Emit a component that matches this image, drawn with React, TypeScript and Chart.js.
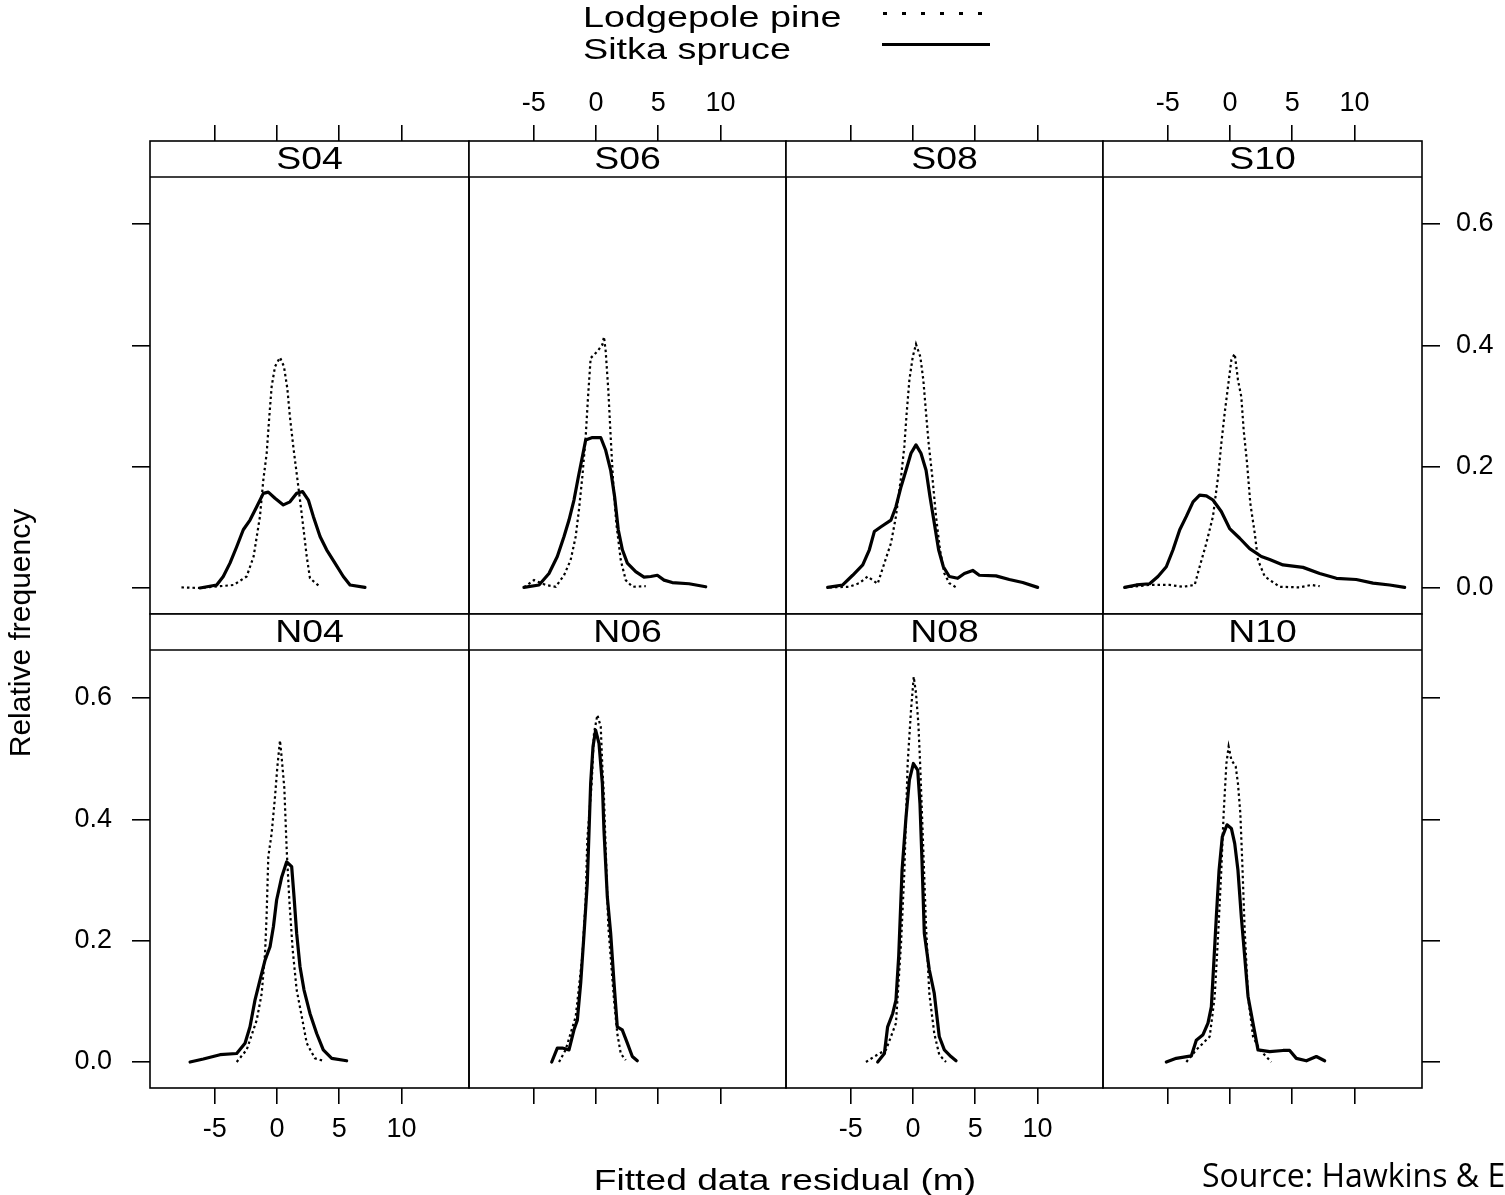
import React, { useEffect, useRef } from 'react';
import { Chart, registerables } from 'chart.js';
Chart.register(...registerables);

const FONT = '"Liberation Sans", Arial, Helvetica, sans-serif';

const panelNames = ['S04', 'S06', 'S08', 'S10', 'N04', 'N06', 'N08', 'N10'];
const seriesNames = ['Lodgepole pine', 'Sitka spruce'];
const xTicks = [-5, 0, 5, 10];
const yTicks = [0, 0.2, 0.4, 0.6];
const yTickLabels = ['0.0', '0.2', '0.4', '0.6'];
const xTitle = 'Fitted data residual (m)';
const yTitle = 'Relative frequency';
const sourceText = 'Source: Hawkins & E';

type P = [number, number][];

const S04_pine: P = [[-7.68, 0.001], [-6.18, 0.0], [-3.48, 0.005], [-2.44, 0.019], [-1.88, 0.052], [-1.37, 0.118], [-1.1, 0.178], [-0.83, 0.222], [-0.62, 0.282], [-0.43, 0.332], [-0.16, 0.365], [0.24, 0.38], [0.56, 0.365], [0.83, 0.329], [1.04, 0.282], [1.31, 0.233], [1.58, 0.189], [1.85, 0.145], [2.11, 0.101], [2.39, 0.052], [2.65, 0.016], [3.46, 0.002]];
const S04_spruce: P = [[-6.19, 0.0], [-4.85, 0.005], [-4.32, 0.019], [-3.78, 0.041], [-3.24, 0.068], [-2.71, 0.096], [-2.17, 0.112], [-1.63, 0.134], [-1.1, 0.156], [-0.7, 0.158], [-0.16, 0.148], [0.51, 0.137], [1.04, 0.142], [1.58, 0.156], [2.06, 0.159], [2.52, 0.145], [2.92, 0.118], [3.46, 0.085], [3.99, 0.063], [4.66, 0.041], [5.33, 0.019], [5.87, 0.005], [7.07, 0.001]];

const S06_pine: P = [[-5.79, 0.001], [-4.98, 0.013], [-4.04, 0.005], [-3.24, 0.002], [-2.57, 0.021], [-2.04, 0.046], [-1.63, 0.085], [-1.37, 0.129], [-1.1, 0.183], [-0.83, 0.249], [-0.64, 0.315], [-0.43, 0.379], [0.11, 0.39], [0.51, 0.401], [0.64, 0.414], [0.78, 0.39], [0.99, 0.326], [1.18, 0.249], [1.37, 0.178], [1.63, 0.107], [1.99, 0.046], [2.39, 0.013], [2.92, 0.002], [4.0, 0.003]];
const S06_spruce: P = [[-5.79, 0.001], [-4.58, 0.005], [-3.78, 0.024], [-3.11, 0.052], [-2.57, 0.085], [-2.17, 0.112], [-1.77, 0.145], [-1.42, 0.183], [-1.1, 0.216], [-0.83, 0.244], [-0.29, 0.248], [0.38, 0.248], [0.78, 0.227], [1.18, 0.194], [1.5, 0.15], [1.79, 0.096], [2.12, 0.063], [2.52, 0.041], [3.19, 0.027], [3.86, 0.018], [4.4, 0.019], [4.93, 0.021], [5.47, 0.013], [6.13, 0.009], [7.48, 0.007], [8.82, 0.002]];

const S08_pine: P = [[-6.72, 0.001], [-5.12, 0.002], [-4.32, 0.008], [-3.64, 0.019], [-2.84, 0.007], [-2.3, 0.041], [-1.77, 0.074], [-1.37, 0.118], [-0.96, 0.183], [-0.7, 0.233], [-0.51, 0.288], [-0.29, 0.343], [-0.02, 0.381], [0.24, 0.402], [0.59, 0.381], [0.83, 0.343], [1.05, 0.288], [1.26, 0.238], [1.58, 0.178], [1.85, 0.118], [2.17, 0.063], [2.52, 0.024], [2.92, 0.008], [3.46, 0.001]];
const S08_spruce: P = [[-6.86, 0.001], [-5.65, 0.005], [-4.85, 0.021], [-4.04, 0.038], [-3.51, 0.063], [-3.11, 0.093], [-2.57, 0.101], [-1.77, 0.112], [-1.37, 0.134], [-0.96, 0.167], [-0.56, 0.194], [-0.16, 0.222], [0.24, 0.236], [0.64, 0.222], [1.05, 0.194], [1.37, 0.15], [1.71, 0.107], [2.06, 0.063], [2.44, 0.035], [2.92, 0.019], [3.59, 0.016], [4.13, 0.024], [4.8, 0.029], [5.33, 0.021], [6.67, 0.02], [7.74, 0.014], [8.82, 0.009], [10.02, 0.001]];

const S10_pine: P = [[-8.47, 0.001], [-6.46, 0.005], [-4.85, 0.005], [-3.78, 0.002], [-2.84, 0.005], [-2.44, 0.035], [-1.9, 0.074], [-1.37, 0.118], [-0.96, 0.183], [-0.7, 0.238], [-0.43, 0.288], [-0.16, 0.332], [0.11, 0.376], [0.38, 0.386], [0.64, 0.343], [0.91, 0.315], [1.1, 0.26], [1.37, 0.206], [1.63, 0.14], [1.99, 0.09], [2.25, 0.046], [2.79, 0.019], [3.99, 0.002], [5.6, 0.001], [6.54, 0.005], [7.21, 0.003]];
const S10_spruce: P = [[-8.47, 0.001], [-7.53, 0.005], [-6.46, 0.007], [-5.79, 0.019], [-5.12, 0.035], [-4.58, 0.063], [-4.04, 0.096], [-3.51, 0.118], [-2.97, 0.142], [-2.44, 0.153], [-1.9, 0.152], [-1.37, 0.145], [-0.7, 0.126], [-0.03, 0.098], [0.78, 0.082], [1.58, 0.065], [2.52, 0.052], [3.19, 0.047], [4.26, 0.038], [5.87, 0.034], [7.21, 0.024], [8.55, 0.016], [10.15, 0.014], [11.5, 0.008], [12.84, 0.005], [14.04, 0.001]];

const N04_pine: P = [[-3.24, 0.0], [-2.44, 0.02], [-1.63, 0.069], [-1.23, 0.113], [-0.96, 0.179], [-0.83, 0.245], [-0.7, 0.338], [-0.43, 0.377], [-0.16, 0.437], [0.03, 0.487], [0.24, 0.53], [0.38, 0.501], [0.59, 0.451], [0.78, 0.349], [0.99, 0.267], [1.26, 0.185], [1.58, 0.119], [1.99, 0.075], [2.39, 0.031], [3.05, 0.006], [3.72, 0.002]];
const N04_spruce: P = [[-6.99, 0.0], [-5.92, 0.005], [-4.58, 0.012], [-3.24, 0.014], [-2.57, 0.031], [-2.17, 0.058], [-1.77, 0.102], [-1.37, 0.135], [-0.96, 0.168], [-0.56, 0.19], [-0.29, 0.223], [-0.03, 0.267], [0.38, 0.305], [0.78, 0.33], [1.18, 0.322], [1.37, 0.272], [1.58, 0.212], [1.85, 0.157], [2.17, 0.119], [2.65, 0.08], [3.19, 0.047], [3.72, 0.02], [4.4, 0.006], [5.6, 0.002]];

const N06_pine: P = [[-2.97, 0.0], [-2.44, 0.02], [-1.63, 0.075], [-1.1, 0.174], [-0.83, 0.267], [-0.7, 0.366], [-0.35, 0.459], [-0.16, 0.542], [0.11, 0.572], [0.38, 0.553], [0.51, 0.487], [0.64, 0.437], [0.99, 0.223], [1.45, 0.102], [1.71, 0.047], [1.99, 0.014], [2.39, 0.003]];
const N06_spruce: P = [[-3.56, 0.0], [-3.11, 0.023], [-2.71, 0.023], [-2.17, 0.02], [-1.77, 0.053], [-1.5, 0.069], [-1.23, 0.13], [-0.96, 0.212], [-0.7, 0.295], [-0.43, 0.459], [-0.24, 0.52], [-0.03, 0.547], [0.24, 0.525], [0.51, 0.459], [0.64, 0.382], [0.91, 0.272], [1.18, 0.212], [1.45, 0.13], [1.71, 0.058], [2.11, 0.053], [2.52, 0.031], [2.92, 0.009], [3.32, 0.002]];

const N08_pine: P = [[-3.78, 0.0], [-3.11, 0.009], [-2.17, 0.02], [-1.37, 0.064], [-0.96, 0.196], [-0.7, 0.311], [-0.43, 0.492], [-0.16, 0.58], [0.06, 0.635], [0.24, 0.608], [0.43, 0.558], [0.56, 0.498], [0.78, 0.377], [1.05, 0.223], [1.31, 0.113], [1.71, 0.047], [2.11, 0.012], [2.65, 0.0]];
const N08_spruce: P = [[-2.84, 0.0], [-2.3, 0.014], [-2.04, 0.058], [-1.63, 0.08], [-1.37, 0.102], [-1.15, 0.174], [-0.88, 0.316], [-0.56, 0.404], [-0.29, 0.465], [0.03, 0.492], [0.38, 0.481], [0.56, 0.426], [0.72, 0.333], [0.91, 0.212], [1.31, 0.152], [1.71, 0.113], [2.11, 0.042], [2.52, 0.02], [3.05, 0.009], [3.46, 0.002]];

const N10_pine: P = [[-3.51, 0.0], [-2.71, 0.02], [-1.63, 0.042], [-1.23, 0.108], [-0.96, 0.207], [-0.7, 0.316], [-0.51, 0.41], [-0.29, 0.492], [-0.11, 0.52], [0.11, 0.498], [0.46, 0.487], [0.64, 0.459], [0.83, 0.41], [0.99, 0.327], [1.18, 0.218], [1.45, 0.108], [1.85, 0.042], [2.39, 0.02], [3.32, 0.0]];
const N10_spruce: P = [[-5.12, 0.0], [-4.32, 0.006], [-3.11, 0.01], [-2.71, 0.036], [-2.17, 0.045], [-1.77, 0.064], [-1.5, 0.091], [-1.29, 0.168], [-1.1, 0.239], [-0.88, 0.316], [-0.62, 0.371], [-0.24, 0.391], [0.11, 0.385], [0.38, 0.36], [0.64, 0.316], [0.91, 0.239], [1.18, 0.174], [1.45, 0.108], [1.85, 0.064], [2.25, 0.02], [3.19, 0.017], [4.26, 0.019], [4.8, 0.019], [5.33, 0.006], [6.14, 0.002], [6.94, 0.009], [7.61, 0.002]];

const pineData = [S04_pine, S06_pine, S08_pine, S10_pine, N04_pine, N06_pine, N08_pine, N10_pine];
const spruceData = [S04_spruce, S06_spruce, S08_spruce, S10_spruce, N04_spruce, N06_spruce, N08_spruce, N10_spruce];

// geometry
const colX = [150, 469, 786, 1103, 1422];
const rowTop = [141, 614];
const rowBottom = [614, 1088];
const yZeroPx = [588, 1062];
const STRIP_H = 36;
const PX_PER_X = 12.44;
const PX_PER_Y = 606.7;
const X_ZERO_OFF = 127;
const PAD = 3;
const X_TICK_LEN = 16;
const Y_TICK_LEN = 18;

const stripPlugin = {
  id: 'strip',
  afterDatasetsDraw(chart: any, _args: any, opts: any) {
    const { ctx, chartArea: a } = chart;
    ctx.save();
    ctx.fillStyle = '#fff';
    ctx.fillRect(a.left, a.top, a.right - a.left, STRIP_H);
    ctx.strokeStyle = '#000';
    ctx.lineWidth = 1.6;
    ctx.strokeRect(a.left, a.top, a.right - a.left, a.bottom - a.top);
    ctx.beginPath();
    ctx.moveTo(a.left, a.top + STRIP_H);
    ctx.lineTo(a.right, a.top + STRIP_H);
    ctx.stroke();
    ctx.fillStyle = '#000';
    ctx.font = `32px ${FONT}`;
    ctx.textAlign = 'center';
    ctx.textBaseline = 'middle';
    ctx.translate((a.left + a.right) / 2, a.top + STRIP_H / 2 + 1);
    ctx.scale(1.17, 1);
    ctx.fillText(opts.name, 0, 0);
    ctx.restore();
  },
};

function zeroPad(s: any) {
  s.paddingLeft = 0;
  s.paddingRight = 0;
  s.paddingTop = 0;
  s.paddingBottom = 0;
}

function Panel({ idx }: { idx: number }) {
  const ref = useRef<HTMLCanvasElement | null>(null);
  const col = idx % 4;
  const row = Math.floor(idx / 4);
  const left = colX[col];
  const right = colX[col + 1];
  const top = rowTop[row];
  const bottom = rowBottom[row];
  const w = right - left;
  const h = bottom - top;
  const xLabeled = row === 0 ? col % 2 === 1 : col % 2 === 0;
  const hasLeft = col === 0;
  const hasRight = col === 3;
  const yLabeled = (col === 0 && row === 1) || (col === 3 && row === 0);
  const topSz = row === 0 ? (xLabeled ? 58 : X_TICK_LEN + 2) : 0;
  const botSz = row === 1 ? (xLabeled ? 62 : X_TICK_LEN + 2) : 0;
  const leftSz = hasLeft ? (yLabeled ? 90 : Y_TICK_LEN + 2) : 0;
  const rightSz = hasRight ? (yLabeled ? 90 : Y_TICK_LEN + 2) : 0;
  const cw = w + leftSz + rightSz + 2 * PAD;
  const ch = h + topSz + botSz + 2 * PAD;
  const cx = left - leftSz - PAD;
  const cy = top - topSz - PAD;

  useEffect(() => {
    const xMin = -X_ZERO_OFF / PX_PER_X;
    const xMax = xMin + w / PX_PER_X;
    const yMin = -(bottom - yZeroPx[row]) / PX_PER_Y;
    const yMax = (yZeroPx[row] - top) / PX_PER_Y;
    const chart = new Chart(ref.current as HTMLCanvasElement, {
      type: 'line',
      data: {
        datasets: [
          {
            label: seriesNames[1],
            data: spruceData[idx].map(([x, y]) => ({ x, y })),
            borderColor: '#000',
            borderWidth: 3.2,
            pointRadius: 0,
            fill: false,
            tension: 0,
            borderJoinStyle: 'round',
            borderCapStyle: 'round',
          },
          {
            label: seriesNames[0],
            data: pineData[idx].map(([x, y]) => ({ x, y })),
            borderColor: '#000',
            borderWidth: 2.2,
            borderDash: [2.5, 3],
            pointRadius: 0,
            fill: false,
            tension: 0,
          },
        ],
      },
      options: {
        animation: false,
        responsive: false,
        events: [],
        layout: { padding: PAD },
        plugins: {
          legend: { display: false },
          tooltip: { enabled: false },
          strip: { name: panelNames[idx] },
        } as any,
        scales: {
          x: {
            type: 'linear',
            position: row === 0 ? 'top' : 'bottom',
            min: xMin,
            max: xMax,
            afterBuildTicks: (s: any) => {
              s.ticks = xTicks.map((v) => ({ value: v }));
            },
            afterFit: (s: any) => {
              s.height = row === 0 ? topSz : botSz;
              zeroPad(s);
            },
            grid: {
              drawOnChartArea: false,
              drawTicks: true,
              tickLength: X_TICK_LEN,
              tickColor: '#000',
              tickWidth: 1.6,
              color: '#000',
              lineWidth: 1.6,
            },
            border: { display: false },
            ticks: {
              display: xLabeled,
              color: '#000',
              font: { family: FONT, size: 27 },
              padding: row === 0 ? 5 : 9,
              maxRotation: 0,
              minRotation: 0,
              autoSkip: false,
              callback: (v: any) => String(v),
            },
          },
          y: {
            type: 'linear',
            display: hasLeft || hasRight,
            position: hasRight ? 'right' : 'left',
            min: yMin,
            max: yMax,
            afterBuildTicks: (s: any) => {
              s.ticks = yTicks.map((v) => ({ value: v }));
            },
            afterFit: (s: any) => {
              s.width = hasRight ? rightSz : leftSz;
              zeroPad(s);
            },
            grid: {
              drawOnChartArea: false,
              drawTicks: true,
              tickLength: Y_TICK_LEN,
              tickColor: '#000',
              tickWidth: 1.6,
              color: '#000',
              lineWidth: 1.6,
            },
            border: { display: false },
            ticks: {
              display: yLabeled,
              color: '#000',
              font: { family: FONT, size: 27 },
              padding: hasRight ? 16 : 20,
              autoSkip: false,
              callback: (v: any) => {
                const i = yTicks.findIndex((t) => Math.abs(t - v) < 1e-9);
                return i >= 0 ? yTickLabels[i] : '';
              },
            },
          },
        },
      } as any,
      plugins: [stripPlugin as any],
    });
    return () => chart.destroy();
  }, []);

  return (
    <canvas
      ref={ref}
      width={cw}
      height={ch}
      style={{ position: 'absolute', left: cx, top: cy, width: cw, height: ch }}
    />
  );
}

export default function App() {
  return (
    <div
      style={{
        position: 'fixed',
        left: 0,
        top: 0,
        width: 1505,
        height: 1195,
        overflow: 'hidden',
        background: '#fff',
      }}
    >
      {panelNames.map((n, i) => (
        <Panel key={n} idx={i} />
      ))}
      <svg
        width={1505}
        height={1195}
        style={{ position: 'absolute', left: 0, top: 0, pointerEvents: 'none' }}
      >
        <text transform="translate(583,26.7) scale(1.26,1)" fontFamily={FONT} fontSize={30} fill="#000">
          {seriesNames[0]}
        </text>
        <text transform="translate(583,59) scale(1.26,1)" fontFamily={FONT} fontSize={30} fill="#000">
          {seriesNames[1]}
        </text>
        <line x1={883} y1={13.5} x2={987} y2={13.5} stroke="#000" strokeWidth={3} strokeDasharray="4 15" />
        <line x1={882} y1={44.5} x2={990} y2={44.5} stroke="#000" strokeWidth={3.2} />
        <text
          transform="translate(785,1190) scale(1.24,1)"
          textAnchor="middle"
          fontFamily={FONT}
          fontSize={30}
          fill="#000"
        >
          {xTitle}
        </text>
        <text
          transform="translate(30,633) rotate(-90)"
          textAnchor="middle"
          fontFamily={FONT}
          fontSize={30}
          fill="#000"
        >
          {yTitle}
        </text>
        <text x={1202} y={1187} fontFamily='"Open Sans", sans-serif' fontSize={32} fill="#000">
          {sourceText}
        </text>
      </svg>
    </div>
  );
}
